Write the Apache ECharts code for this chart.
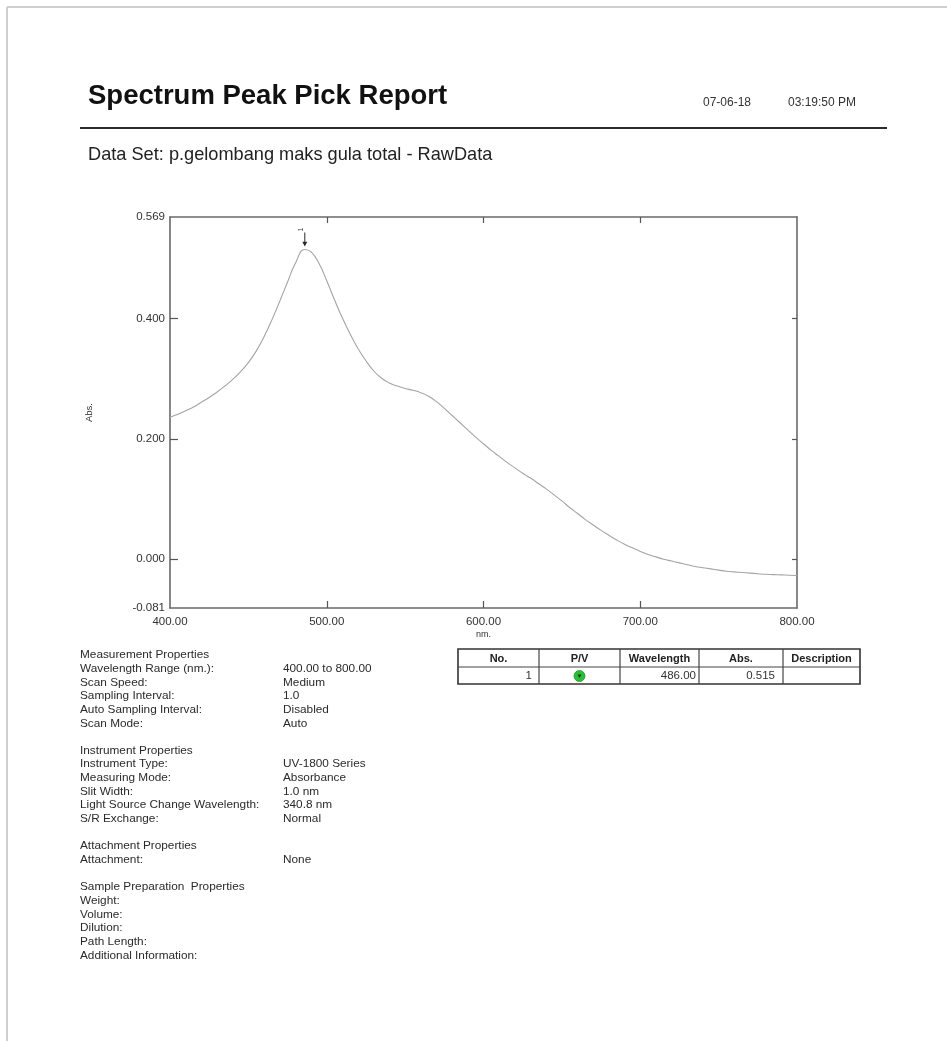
<!DOCTYPE html>
<html>
<head>
<meta charset="utf-8">
<title>Spectrum Peak Pick Report</title>
<script src="https://cdn.jsdelivr.net/npm/echarts@6/dist/echarts.min.js"></script>
<style>
  html, body { margin: 0; padding: 0; background: #ffffff; }
  #report { width: 947px; height: 1041px; }
</style>
</head>
<body>
<div id="report"></div>
<script>
// Spectrum (absorbance vs wavelength, nm)
const wavelengths = [400, 405, 410, 415, 420, 425, 430, 435, 440, 445, 450, 455, 460, 465, 470, 475, 480, 486, 490, 495,
  500, 505, 510, 515, 520, 525, 530, 535, 540, 545, 550, 555, 560, 565, 570, 575, 580, 585, 590, 595,
  600, 605, 610, 615, 620, 625, 630, 635, 640, 645, 650, 655, 660, 665, 670, 675, 680, 685, 690, 695,
  700, 705, 710, 715, 720, 725, 730, 735, 740, 745, 750, 755, 760, 765, 770, 775, 780, 785, 790, 795, 800];
const absorbance = [0.236, 0.241, 0.247, 0.253, 0.261, 0.269, 0.278, 0.288, 0.299, 0.312, 0.327, 0.346, 0.370, 0.398, 0.429, 0.461, 0.492, 0.515, 0.511, 0.492,
  0.463, 0.431, 0.401, 0.374, 0.350, 0.330, 0.313, 0.301, 0.293, 0.288, 0.284, 0.281, 0.277, 0.271, 0.262, 0.251, 0.239, 0.227, 0.215, 0.203,
  0.192, 0.181, 0.171, 0.161, 0.152, 0.143, 0.135, 0.126, 0.117, 0.107, 0.097, 0.086, 0.076, 0.066, 0.057, 0.048, 0.040, 0.032, 0.025, 0.019,
  0.013, 0.008, 0.004, 0.000, -0.003, -0.006, -0.009, -0.012, -0.014, -0.016, -0.018, -0.020, -0.021, -0.022, -0.023, -0.024, -0.025, -0.0255, -0.026, -0.0265, -0.027];

// Picked peaks
const peakNo = [1];
const peakType = ['P'];
const peakWavelength = [486];
const peakAbs = [0.515];

// Axis scale and ticks
const yMin = -0.081, yMax = 0.569;
const yLabelValues = [-0.081, 0.0, 0.2, 0.4, 0.569];
const yTickValues = [0.0, 0.2, 0.4];
const xMin = 400, xMax = 800, xStep = 100;
const xTickValues = [500, 600, 700];

// Header texts
const reportTitle = 'Spectrum Peak Pick Report';
const reportDate = '07-06-18';
const reportTime = '03:19:50 PM';
const dataSetLine = 'Data Set: p.gelombang maks gula total - RawData';

// Property listing (null = blank line)
const propertyLines = [
  ['Measurement Properties', ''],
  ['Wavelength Range (nm.):', '400.00 to 800.00'],
  ['Scan Speed:', 'Medium'],
  ['Sampling Interval:', '1.0'],
  ['Auto Sampling Interval:', 'Disabled'],
  ['Scan Mode:', 'Auto'],
  null,
  ['Instrument Properties', ''],
  ['Instrument Type:', 'UV-1800 Series'],
  ['Measuring Mode:', 'Absorbance'],
  ['Slit Width:', '1.0 nm'],
  ['Light Source Change Wavelength:', '340.8 nm'],
  ['S/R Exchange:', 'Normal'],
  null,
  ['Attachment Properties', ''],
  ['Attachment:', 'None'],
  null,
  ['Sample Preparation  Properties', ''],
  ['Weight:', ''],
  ['Volume:', ''],
  ['Dilution:', ''],
  ['Path Length:', ''],
  ['Additional Information:', '']
];

const tableHeaders = ['No.', 'P/V', 'Wavelength', 'Abs.', 'Description'];

const FONT = '"Liberation Sans", Arial, Helvetica, sans-serif';
const seriesData = wavelengths.map((w, i) => [w, absorbance[i]]);

// ---- page decoration, header, property list, peak table ----
const g = [];
function txt(x, y, s, size, opts) {
  opts = opts || {};
  g.push({
    type: 'text', x: x, y: y, silent: true,
    style: {
      text: s, fill: opts.fill || '#222',
      font: (opts.bold ? 'bold ' : '') + size + 'px ' + FONT,
      align: opts.align || 'left', verticalAlign: 'middle'
    }
  });
}
function line(x1, y1, x2, y2, w, c) {
  g.push({ type: 'line', silent: true, shape: { x1: x1, y1: y1, x2: x2, y2: y2 },
    style: { stroke: c, lineWidth: w } });
}

// sheet edge
line(7, 7, 947, 7, 2, '#cfcfcf');
line(7, 7, 7, 1041, 2, '#cfcfcf');

// header
txt(88, 96, reportTitle, 27.5, { bold: true, fill: '#111' });
txt(703, 103, reportDate, 12, { fill: '#333' });
txt(788, 103, reportTime, 12, { fill: '#333' });
line(80, 128, 887, 128, 2.2, '#2a2a2a');
txt(88, 155, dataSetLine, 18.2, { fill: '#222' });

// property list
const propTop = 655, propStep = 13.65, propX = 80, propValX = 283;
propertyLines.forEach((p, i) => {
  if (!p) return;
  const y = propTop + i * propStep;
  txt(propX, y, p[0], 11.8, { fill: '#2a2a2a' });
  if (p[1]) txt(propValX, y, p[1], 11.8, { fill: '#2a2a2a' });
});

// peak table
const colEdges = [458, 539, 620, 699, 783, 860];
const rowEdges = [649, 667, 684];
const cellPadRight = [7, 0, 3, 8, 4];
g.push({ type: 'rect', silent: true,
  shape: { x: colEdges[0], y: rowEdges[0], width: colEdges[5] - colEdges[0], height: rowEdges[2] - rowEdges[0] },
  style: { fill: 'none', stroke: '#333', lineWidth: 1.6 } });
line(colEdges[0], rowEdges[1], colEdges[5], rowEdges[1], 1.2, '#444');
for (let c = 1; c < colEdges.length - 1; c++) line(colEdges[c], rowEdges[0], colEdges[c], rowEdges[2], 1.2, '#444');
tableHeaders.forEach((h, c) => {
  txt((colEdges[c] + colEdges[c + 1]) / 2, (rowEdges[0] + rowEdges[1]) / 2 + 0.5, h, 11, { bold: true, fill: '#222', align: 'center' });
});
peakNo.forEach((n, r) => {
  const y = (rowEdges[1] + rowEdges[2]) / 2 + 0.5;
  txt(colEdges[1] - cellPadRight[0], y, String(n), 11.5, { align: 'right', fill: '#333' });
  const cx = (colEdges[1] + colEdges[2]) / 2;
  // peak marker dot (green for a peak)
  g.push({ type: 'circle', silent: true, shape: { cx: cx, cy: y, r: 5.5 },
    style: { fill: peakType[r] === 'P' ? '#2dbd36' : '#d33', stroke: '#1f9a2a', lineWidth: 0.8 } });
  g.push({ type: 'polygon', silent: true, shape: { points: [[cx - 2, y - 1.5], [cx + 2, y - 1.5], [cx, y + 2]] },
    style: { fill: '#1a3a1a' } });
  txt(colEdges[3] - cellPadRight[2], y, peakWavelength[r].toFixed(2), 11.5, { align: 'right', fill: '#333' });
  txt(colEdges[4] - cellPadRight[3], y, peakAbs[r].toFixed(3), 11.5, { align: 'right', fill: '#333' });
});

// ---- spectrum plot ----
const frame = { lineStyle: { color: '#6a6a6a', width: 1.6 } };
const tickStyle = { lineStyle: { color: '#555', width: 1.2 } };
const labelStyle = { color: '#333', fontSize: 11.5, fontFamily: FONT };

const option = {
  animation: false,
  backgroundColor: '#ffffff',
  grid: { left: 170, top: 217, right: 150, bottom: 433, outerBoundsMode: 'none', containLabel: false },
  xAxis: [
    {
      type: 'value', position: 'bottom', min: xMin, max: xMax, interval: xStep,
      name: 'nm.', nameLocation: 'middle', nameGap: 22,
      nameTextStyle: { color: '#333', fontSize: 9, fontFamily: FONT },
      axisLine: Object.assign({ show: true, onZero: false }, frame),
      axisTick: Object.assign({ show: true, inside: true, length: 7, customValues: xTickValues }, tickStyle),
      axisLabel: Object.assign({ show: true, margin: 8, formatter: v => v.toFixed(2) }, labelStyle),
      splitLine: { show: false }
    },
    {
      type: 'value', position: 'top', min: xMin, max: xMax, interval: xStep,
      axisLine: Object.assign({ show: true, onZero: false }, frame),
      axisTick: Object.assign({ show: true, inside: true, length: 6, customValues: xTickValues }, tickStyle),
      axisLabel: { show: false },
      splitLine: { show: false }
    }
  ],
  yAxis: [
    {
      type: 'value', position: 'left', min: yMin, max: yMax,
      name: 'Abs.', nameLocation: 'middle', nameGap: 76, nameRotate: 90,
      nameTextStyle: { color: '#333', fontSize: 9.5, fontFamily: FONT },
      axisLine: Object.assign({ show: true, onZero: false }, frame),
      axisTick: Object.assign({ show: true, inside: true, length: 8, customValues: yTickValues }, tickStyle),
      axisLabel: Object.assign({ show: true, margin: 5, customValues: yLabelValues, formatter: v => v.toFixed(3) }, labelStyle),
      splitLine: { show: false }
    },
    {
      type: 'value', position: 'right', min: yMin, max: yMax,
      axisLine: Object.assign({ show: true, onZero: false }, frame),
      axisTick: Object.assign({ show: true, inside: true, length: 5, customValues: yTickValues }, tickStyle),
      axisLabel: { show: false },
      splitLine: { show: false }
    }
  ],
  series: [
    {
      type: 'line',
      xAxisIndex: 0, yAxisIndex: 0,
      data: seriesData,
      smooth: 0.5,
      showSymbol: false,
      lineStyle: { color: '#a4a4a4', width: 1.1 },
      markPoint: {
        silent: true,
        symbol: 'path://M4,0 L6,0 L6,20 L10,20 L5,30 L0,20 L4,20 Z',
        symbolSize: [5, 14],
        symbolOffset: [0, -10],
        itemStyle: { color: '#2a2a2a' },
        label: { show: true, position: 'top', distance: 3, rotate: 90, color: '#333', fontSize: 7, fontFamily: FONT,
          formatter: p => String(p.value) },
        data: peakNo.map((n, i) => ({ coord: [peakWavelength[i], peakAbs[i]], value: n }))
      }
    }
  ],
  graphic: { elements: g }
};

const chart = echarts.init(document.getElementById('report'), null, { renderer: 'canvas', width: 947, height: 1041 });
chart.setOption(option);
</script>
</body>
</html>
